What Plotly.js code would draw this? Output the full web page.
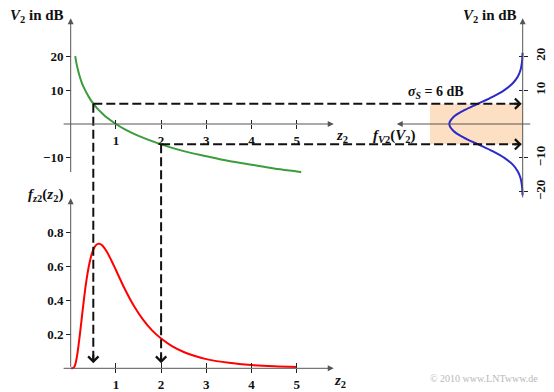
<!DOCTYPE html>
<html><head><meta charset="utf-8">
<script src="https://cdn.plot.ly/plotly-3.0.1.min.js"></script>
<style>html,body{margin:0;padding:0;background:#fff}#chart{width:554px;height:392px}</style>
</head><body><div id="chart"></div>
<script>
// ---------- data ----------
const zLevel = [0.1, 0.12, 0.15, 0.2, 0.25, 0.3, 0.4, 0.5, 0.6, 0.7, 0.8, 1.0, 1.2, 1.5, 2.0, 2.5, 3.0, 3.5, 4.0, 4.5, 5.0, 5.1];
const vLevel = [20, 18.4, 16.5, 14, 12, 10.5, 8, 6, 4.4, 3.1, 1.9, 0, -1.6, -3.5, -6, -8, -9.5, -10.9, -12, -13.1, -14, -14.2];

const zPdf = [0.01, 0.05, 0.07, 0.1, 0.12, 0.15, 0.2, 0.25, 0.3, 0.35, 0.4, 0.45, 0.5, 0.55, 0.6, 0.65, 0.7, 0.8, 0.9, 1.0, 1.2, 1.4, 1.6, 1.8, 2.0, 2.25, 2.5, 2.75, 3.0, 3.5, 4.0, 4.5, 5.0];
const fPdf = [0, 0.001, 0.005, 0.022, 0.043, 0.089, 0.192, 0.308, 0.422, 0.520, 0.599, 0.658, 0.698, 0.722, 0.732, 0.732, 0.722, 0.685, 0.634, 0.578, 0.465, 0.366, 0.286, 0.223, 0.175, 0.129, 0.096, 0.072, 0.054, 0.032, 0.019, 0.012, 0.008];

const vGauss = [-21, -20, -18, -16, -14, -12, -10, -8, -6, -4, -2, 0, 2, 4, 6, 8, 10, 12, 14, 16, 18, 20, 21];
const fGauss = [0.00015, 0.00026, 0.00074, 0.0019, 0.0044, 0.0090, 0.0166, 0.0273, 0.0403, 0.0533, 0.0629, 0.0665, 0.0629, 0.0533, 0.0403, 0.0273, 0.0166, 0.0090, 0.0044, 0.0019, 0.00074, 0.00026, 0.00015];

const zTickVals = [1, 2, 3, 4, 5];
const vTickVals = [20, 10, -10];
const vTickValsRight = [20, 10, -10, -20];
const fTickVals = [0.2, 0.4, 0.6, 0.8];

const zMarks = [0.5, 2];
const vMarks = [6, -6];
const sigmaS = 6;

// ---------- layout helpers ----------
const W = 554, H = 392;
const P = px => px / W;
const Q = py => 1 - py / H;
const zRange = [-1.5642, 10.6925];
const vRange = [-79.06, 36.58];
const fRange = [-0.1394, 2.1665];
const dRange = [0.47346, -0.02835];
const conv = (v, a, b) => b[0] + (v - a[0]) / (a[1] - a[0]) * (b[1] - b[0]);

const SERIF = 'Liberation Serif, Times New Roman, serif';
const AX = '#555555';
const TK = '#222222';
const tickFont = {family: SERIF, size: 13, color: '#111', weight: 'bold'};
const base = {showgrid: false, zeroline: false, showline: false, fixedrange: true, domain: [0, 1], tickcolor: TK, tickwidth: 1, tickfont: tickFont, tickmode: 'array'};

const traces = [
  {x: zLevel, y: vLevel, xaxis: 'x', yaxis: 'y', mode: 'lines', line: {color: '#3c9c3c', width: 2, shape: 'spline'}, hoverinfo: 'skip'},
  {x: zPdf, y: fPdf, xaxis: 'x2', yaxis: 'y2', mode: 'lines', line: {color: '#ff0000', width: 2, shape: 'spline'}, hoverinfo: 'skip'},
  {x: fGauss, y: vGauss, xaxis: 'x3', yaxis: 'y', mode: 'lines', line: {color: '#2a2ac8', width: 2, shape: 'spline'}, hoverinfo: 'skip'},
  {x: [], y: [], xaxis: 'x4', yaxis: 'y', hoverinfo: 'skip'},
  {x: [], y: [], xaxis: 'x5', yaxis: 'y2', hoverinfo: 'skip'},
  {x: [], y: [], xaxis: 'x3', yaxis: 'y3', hoverinfo: 'skip'},
  {x: [], y: [], xaxis: 'x3', yaxis: 'y4', hoverinfo: 'skip'}
];

const layout = {
  width: W, height: H, margin: {l: 0, r: 0, t: 0, b: 0, pad: 0},
  paper_bgcolor: '#ffffff', plot_bgcolor: 'rgba(0,0,0,0)', showlegend: false,
  xaxis: Object.assign({}, base, {range: zRange, anchor: 'free', position: Q(124), tickvals: zTickVals, ticks: 'outside', ticklen: 4}),
  xaxis4: Object.assign({}, base, {range: zRange, overlaying: 'x', anchor: 'free', position: Q(124), side: 'top', tickvals: zTickVals, ticks: 'outside', ticklen: 4, showticklabels: false}),
  xaxis2: Object.assign({}, base, {range: zRange, overlaying: 'x', anchor: 'free', position: Q(368.3), tickvals: zTickVals, ticks: 'outside', ticklen: 4}),
  xaxis5: Object.assign({}, base, {range: zRange, overlaying: 'x', anchor: 'free', position: Q(368.3), side: 'top', tickvals: zTickVals, ticks: 'outside', ticklen: 5, showticklabels: false}),
  xaxis3: Object.assign({}, base, {range: dRange, overlaying: 'x', anchor: 'y', visible: false}),
  yaxis: Object.assign({}, base, {range: vRange, anchor: 'free', position: P(71), tickvals: vTickVals, ticks: 'outside', ticklen: 5}),
  yaxis2: Object.assign({}, base, {range: fRange, overlaying: 'y', anchor: 'free', position: P(71), tickvals: fTickVals, ticks: 'outside', ticklen: 5}),
  yaxis3: Object.assign({}, base, {range: vRange, overlaying: 'y', anchor: 'free', position: P(522.7), side: 'right', tickvals: vTickValsRight, ticks: 'outside', ticklen: 4, tickangle: -90, ticklabelstandoff: 2}),
  yaxis4: Object.assign({}, base, {range: vRange, overlaying: 'y', anchor: 'free', position: P(522.7), side: 'left', tickvals: vTickValsRight, ticks: 'outside', ticklen: 4, showticklabels: false}),
  shapes: [],
  annotations: []
};

// shaded +/- sigma band on the level pdf
layout.shapes.push({type: 'rect', xref: 'x3', yref: 'y', x0: 0, x1: 0.084, y0: -sigmaS, y1: sigmaS,
  fillcolor: '#fddfc3', line: {width: 0}, layer: 'below'});

// dashed guides
const zAtRightAxis = conv(0, dRange, zRange);
const tipF = 0.03;
zMarks.forEach((z, i) => {
  const v = vMarks[i];
  const dash = {color: '#111', width: 2, dash: '9px,4px'};
  layout.shapes.push({type: 'line', xref: 'x', yref: 'y', x0: z, x1: zAtRightAxis, y0: v, y1: v, line: dash});
  layout.shapes.push({type: 'line', xref: 'x', yref: 'y', x0: z, x1: z, y0: v, y1: conv(tipF, fRange, vRange), line: dash});
  layout.annotations.push({xref: 'x3', yref: 'y', x: 0, y: v, ax: -10, ay: 0, showarrow: true, arrowhead: 4, arrowwidth: 2, arrowsize: 1, arrowcolor: '#111', standoff: 1, text: ''});
  layout.annotations.push({xref: 'x2', yref: 'y2', x: z, y: tipF, ax: 0, ay: -10, showarrow: true, arrowhead: 4, arrowwidth: 2, arrowsize: 1, arrowcolor: '#111', standoff: 0, text: ''});
});

// axis lines with arrow heads
const axisArrow = (xref, yref, x0, y0, x1, y1) => ({xref, yref, axref: xref, ayref: yref, x: x1, y: y1, ax: x0, ay: y0,
  showarrow: true, arrowhead: 2, arrowsize: 1.2, arrowwidth: 1, arrowcolor: AX, standoff: 0, text: ''});
layout.annotations.push(axisArrow('x', 'y', -0.19, 0, 5.82, 0));
layout.annotations.push(axisArrow('x', 'y', 0, -14.6, 0, 31.2));
layout.annotations.push(axisArrow('x2', 'y2', -0.19, 0, 5.82, 0));
layout.annotations.push(axisArrow('x2', 'y2', 0, 0, 0, 1.0));
layout.annotations.push(axisArrow('x3', 'y', 0, -22.1, 0, 31.2));
layout.annotations.push(axisArrow('x3', 'y', -0.0082, 0, 0.1141, 0));

// texts
const txt = (px, py, text, size, extra) => Object.assign({xref: 'paper', yref: 'paper', x: P(px), y: Q(py), xanchor: 'center', yanchor: 'middle',
  showarrow: false, text: text, font: {family: SERIF, size: size, color: '#111'}}, extra || {});
layout.annotations.push(txt(37, 16, '<b><i>V</i><sub>2</sub> in dB</b>', 15));
layout.annotations.push(txt(490, 16, '<b><i>V</i><sub>2</sub> in dB</b>', 15));
layout.annotations.push(txt(45, 195, '<b><i>f</i><sub><i>z</i>2</sub>(<i>z</i><sub>2</sub>)</b>', 15));
layout.annotations.push(txt(342, 136, '<b><i>z</i><sub>2</sub></b>', 15));
layout.annotations.push(txt(340, 381, '<b><i>z</i><sub>2</sub></b>', 15));
layout.annotations.push(txt(436, 92, '<b><i>σ</i><sub><i>S</i></sub> = 6 dB</b>', 14));
layout.annotations.push(txt(394, 136, '<b><i>f</i><sub><i>V</i>2</sub>(<i>V</i><sub>2</sub>)</b>', 15));
layout.annotations.push(txt(484, 378, '© 2010 www.LNTwww.de', 10, {font: {family: SERIF, size: 10, color: '#b8b8b8'}}));

Plotly.newPlot('chart', traces, layout, {displayModeBar: false, staticPlot: true});
</script>
</body></html>
